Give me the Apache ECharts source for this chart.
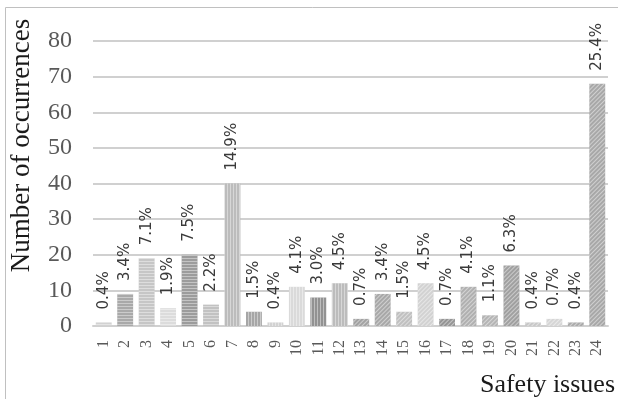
<!DOCTYPE html>
<html><head><meta charset="utf-8">
<script src="https://cdn.jsdelivr.net/npm/echarts@6/dist/echarts.min.js"></script>
<style>html,body{margin:0;padding:0;background:#fff}#c{width:618px;height:399px}</style>
</head><body><div id="c"></div>
<script>
const categories = ['1','2','3','4','5','6','7','8','9','10','11','12','13','14','15','16','17','18','19','20','21','22','23','24'];
const counts = [1,9,19,5,20,6,40,4,1,11,8,12,2,9,4,12,2,11,3,17,1,2,1,68];
const percents = ['0.4%','3.4%','7.1%','1.9%','7.5%','2.2%','14.9%','1.5%','0.4%','4.1%','3.0%','4.5%','0.7%','3.4%','1.5%','4.5%','0.7%','4.1%','1.1%','6.3%','0.4%','0.7%','0.4%','25.4%'];
const yTicks = [0,10,20,30,40,50,60,70,80];

const barColors = ['#d2d2d2','#a9a9a9','#c6c6c6','#dcdcdc','#9c9c9c','#c2c2c2','#bcbcbc','#a6a6a6','#d2d2d2','#dadada','#929292','#bcbcbc',
  '#a2a2a2','#a8a8a8','#c0c0c0','#d2d2d2','#959595','#b0b0b0','#b4b4b4','#a0a0a0','#c8c8c8','#d6d6d6','#ababab','#a8a8a8'];
function decalFor(i){
  if (i < 6) return {symbol:'rect', dashArrayX:[1,0], dashArrayY:[1,2], rotation:0, color:'rgba(255,255,255,0.4)'};
  if (i < 12) return {symbol:'rect', dashArrayX:[1,0], dashArrayY:[1,2], rotation:Math.PI/2, color:'rgba(255,255,255,0.4)'};
  return {symbol:'rect', dashArrayX:[1,0], dashArrayY:[1,1.5], rotation:-Math.PI/4, color:'rgba(255,255,255,0.45)'};
}
const data = counts.map((v,i)=>({
  value:v,
  itemStyle:{color:barColors[i], decal:decalFor(i)},
  label:{formatter:percents[i]}
}));

const chart = echarts.init(document.getElementById('c'), null, {renderer:'canvas'});
chart.setOption({
  animation:false,
  aria:{enabled:false},
  graphic:[{type:'rect', shape:{x:5.5,y:7.5,width:700,height:500}, style:{fill:'none', stroke:'#c0c0c0', lineWidth:1}, silent:true, z:-10}],
  grid:{left:91, right:10, top:41, bottom:73},
  xAxis:{
    type:'category', data:categories,
    axisLine:{lineStyle:{color:'#d0d0d0', width:2}},
    axisTick:{show:false},
    axisLabel:{rotate:90, color:'#595959', fontFamily:'Liberation Serif', fontSize:16, margin:14, interval:0},
    name:'Safety issues', nameLocation:'end', nameGap:7,
    nameTextStyle:{fontFamily:'Liberation Serif', fontSize:26, color:'#1a1a1a', align:'right', verticalAlign:'top', padding:[46,0,0,0]}
  },
  yAxis:{
    type:'value', min:0, max:80, interval:10,
    axisLine:{show:false}, axisTick:{show:false},
    splitLine:{lineStyle:{color:'#d0d0d0', width:2}},
    axisLabel:{color:'#595959', fontFamily:'Liberation Serif', fontSize:24, margin:21,
      formatter:v=>yTicks.includes(v)?String(v):''},
    name:'Number of occurrences', nameLocation:'middle', nameGap:58,
    nameTextStyle:{fontFamily:'Liberation Serif', fontSize:27, color:'#1a1a1a', padding:[0,0,0,76]}
  },
  series:[{
    type:'bar', data:data, barCategoryGap:'26%',
    label:{show:true, position:'top', rotate:90, align:'left', verticalAlign:'middle', distance:13,
      fontFamily:'DejaVu Sans', fontSize:15, color:'#3a3a3a'}
  }]
});
</script></body></html>
